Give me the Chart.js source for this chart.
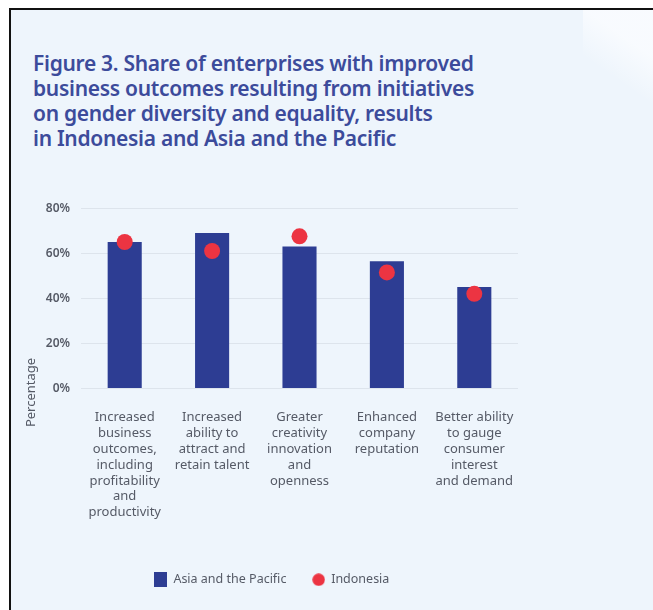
<!DOCTYPE html>
<html>
<head>
<meta charset="utf-8">
<script src="https://cdn.jsdelivr.net/npm/chart.js@4/dist/chart.umd.min.js"></script>
<style>
  html, body { margin: 0; padding: 0; background: #fff; }
  body { width: 653px; height: 610px; position: relative; overflow: hidden; }
  #panel {
    position: absolute; left: 9px; top: 8px; right: 0; bottom: 0;
    border-left: 2px solid #111; border-top: 2px solid #111;
    background: #eef5fc;
  }
  #corner {
    position: absolute; right: 0; top: 10px; width: 70px; height: 110px;
    background: linear-gradient(215deg, rgba(250,252,255,0.85) 30%, rgba(238,245,252,0) 60%);
  }
  #title {
    position: absolute; left: 33px; top: 51px; margin: 0;
    font-family: "Noto Sans", sans-serif; font-weight: 600;
    font-size: 21px; line-height: 25px; color: #3c4b9b;
    letter-spacing: -0.3px; white-space: nowrap;
  }
  #wrap { position: absolute; left: 12px; top: 190px; width: 560px; height: 415px; }
</style>
</head>
<body>
<div id="panel"></div>
<div id="corner"></div>
<h1 id="title">Figure 3. Share of enterprises with improved<br>business outcomes resulting from initiatives<br>on gender diversity and equality, results<br>in Indonesia and Asia and the Pacific</h1>
<div id="wrap"><canvas id="chart"></canvas></div>
<script>
const categories = [
  ["Increased", "business", "outcomes,", "including", "profitability", "and", "productivity"],
  ["Increased", "ability to", "attract and", "retain talent"],
  ["Greater", "creativity", "innovation", "and", "openness"],
  ["Enhanced", "company", "reputation"],
  ["Better ability", "to gauge", "consumer", "interest", "and demand"]
];
const asiaPacific = [65, 69, 63, 56.5, 45];
const indonesia = [65, 61, 67.5, 51.5, 42];
const yTicks = [0, 20, 40, 60, 80];

const BLUE = "#2d3d93";
const RED = "#ec3442";
const TEXT = "#555a66";

// small legend icons
function icon(w, h, draw) {
  const c = document.createElement("canvas");
  c.width = w; c.height = h;
  draw(c.getContext("2d"));
  return c;
}
const rectIcon = icon(13, 15, ctx => { ctx.fillStyle = BLUE; ctx.fillRect(0, 0, 13, 15); });
const dotIcon = icon(13, 13, ctx => {
  ctx.fillStyle = RED; ctx.beginPath(); ctx.arc(6.5, 6.5, 6.2, 0, Math.PI * 2); ctx.fill();
});

const yTitle = {
  id: "yTitle",
  afterDraw(chart) {
    const { ctx, chartArea } = chart;
    ctx.save();
    ctx.translate(19, chartArea.bottom + 4);
    ctx.rotate(-Math.PI / 2);
    ctx.font = "13px 'Noto Sans'";
    ctx.fillStyle = TEXT;
    ctx.textAlign = "center";
    ctx.textBaseline = "middle";
    ctx.fillText("Percentage", 0, 0);
    ctx.restore();
  }
};

new Chart(document.getElementById("chart"), {
  type: "bar",
  data: {
    labels: categories,
    datasets: [
      {
        label: "Asia and the Pacific",
        data: asiaPacific,
        backgroundColor: BLUE,
        categoryPercentage: 1,
        barPercentage: 0.39,
        order: 2
      },
      {
        type: "line",
        label: "Indonesia",
        data: indonesia,
        showLine: false,
        pointRadius: 8,
        pointBackgroundColor: RED,
        pointBorderWidth: 0,
        backgroundColor: RED,
        borderColor: RED,
        order: 1
      }
    ]
  },
  options: {
    responsive: true,
    maintainAspectRatio: false,
    animation: false,
    layout: { padding: { top: 18, right: 54, bottom: 9, left: 14 } },
    plugins: {
      title: { display: false },
      tooltip: { enabled: false },
      legend: {
        position: "bottom",
        labels: {
          usePointStyle: true,
          color: TEXT,
          font: { family: "Noto Sans", size: 12.5 },
          padding: 26,
          sort: (a, b) => a.datasetIndex - b.datasetIndex,
          generateLabels(chart) {
            const items = Chart.defaults.plugins.legend.labels.generateLabels(chart);
            items.forEach(it => { it.pointStyle = it.datasetIndex === 0 ? rectIcon : dotIcon; });
            return items;
          }
        }
      }
    },
    scales: {
      x: {
        grid: { display: false, drawTicks: false },
        border: { display: false },
        ticks: {
          color: TEXT,
          font: { family: "Noto Sans", size: 13, lineHeight: 1.22 },
          padding: 21,
          maxRotation: 0,
          autoSkip: false
        },
        afterFit(scale) { scale.height += 6; }
      },
      y: {
        min: 0,
        max: 80,
        grid: { color: "#dde4ec", drawTicks: false },
        border: { display: false },
        afterBuildTicks(scale) { scale.ticks = yTicks.map(v => ({ value: v })); },
        ticks: {
          color: TEXT,
          font: { family: "Noto Sans", size: 12, weight: "600" },
          padding: 11,
          callback: v => v + "%"
        },
        afterFit(scale) { scale.width = 55; }
      }
    }
  },
  plugins: [yTitle]
});
</script>
</body>
</html>
